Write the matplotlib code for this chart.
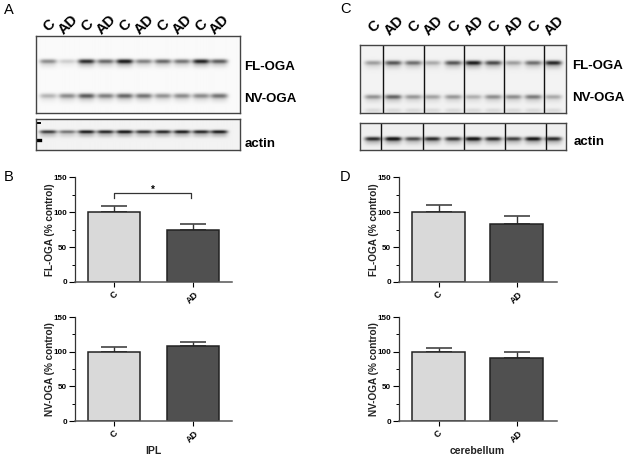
import matplotlib
matplotlib.use('Agg')
import matplotlib.pyplot as plt
import numpy as np

plt.rcParams['font.family'] = ['Liberation Sans', 'DejaVu Sans']

W, H = 629, 461

# bar values
groups = ['C', 'AD']
fl_ipl = [100, 75]
fl_ipl_err = [8, 8]
nv_ipl = [100, 108]
nv_ipl_err = [7, 6]
fl_cb = [100, 83]
fl_cb_err = [10, 12]
nv_cb = [100, 91]
nv_cb_err = [5, 9]
yticks = [0, 50, 100, 150]

# blot lanes and band darkness (0-1) per lane
lanes = ['C', 'AD', 'C', 'AD', 'C', 'AD', 'C', 'AD', 'C', 'AD']
a_fl = [0.45, 0.18, 0.85, 0.6, 0.95, 0.5, 0.6, 0.55, 0.9, 0.65]
a_nv = [0.28, 0.45, 0.65, 0.5, 0.6, 0.55, 0.42, 0.45, 0.45, 0.55]
a_actin = [0.8, 0.55, 0.95, 0.9, 1.0, 0.85, 0.9, 0.95, 0.9, 0.95]
c_fl = [0.35, 0.65, 0.55, 0.3, 0.65, 0.9, 0.7, 0.35, 0.55, 0.85]
c_nv = [0.4, 0.6, 0.38, 0.33, 0.38, 0.28, 0.42, 0.42, 0.5, 0.3]
c_actin = [0.85, 1.0, 0.7, 0.85, 0.8, 1.0, 0.85, 0.75, 0.95, 0.85]


def px_axes(x0, y0, x1, y1):
    return fig.add_axes([x0 / W, 1 - y1 / H, (x1 - x0) / W, (y1 - y0) / H])


def txt(x, y, s, size, rotation=0, color='black', weight='bold'):
    fig.text(x / W, 1 - y / H, s, fontsize=size, fontweight=weight, rotation=rotation,
             ha='center', va='center', color=color, rotation_mode='anchor')


def blot(x0, y0, x1, y1, lane_x, rows, bg=0.97, dividers=()):
    ax = px_axes(x0, y0, x1, y1)
    xx, yy = np.meshgrid(np.arange(x0, x1, 0.5), np.arange(y0, y1, 0.5))
    img = np.zeros(xx.shape)
    for y_band, vals, sy in rows:
        for lx, v in zip(lane_x, vals):
            prof = np.exp(-((xx - lx) / 8.5) ** 4)
            img += v * prof * np.exp(-((yy - y_band) / sy) ** 2)
            img += 0.25 * v * prof * np.exp(-((yy - y_band - 3) / (sy * 1.6)) ** 2)
    ax.imshow(bg - np.clip(img, 0, 1) * 0.85, cmap='gray', vmin=0, vmax=1, aspect='auto',
              extent=[x0, x1, y1, y0], interpolation='bilinear')
    for d in dividers:
        ax.axvline(d, color='#111111', lw=1)
    ax.set_xticks([])
    ax.set_yticks([])
    for s in ax.spines.values():
        s.set_color('#444444')
        s.set_linewidth(1)
    return ax


def bars(x0, x1, y_top, y_bot, c_span, ad_span, vals, errs, ylabel, lab_x, xlabel=None):
    ax = px_axes(x0, y_top, x1, y_bot)
    ax.set_xlim(x0, x1)
    ax.set_ylim(0, 150)
    pos = [sum(c_span) / 2, sum(ad_span) / 2]
    ax.bar(pos, vals, width=c_span[1] - c_span[0], color=['#d9d9d9', '#505050'],
           edgecolor='#222222', linewidth=1.1, zorder=2)
    ax.errorbar(pos, vals, yerr=[[0, 0], errs], fmt='none', ecolor='#333333', elinewidth=1,
                capsize=9.5, capthick=1.1, zorder=1)
    for s in ['top', 'right']:
        ax.spines[s].set_visible(False)
    ax.spines['left'].set_linewidth(0.9)
    ax.spines['bottom'].set_linewidth(1.1)
    ax.spines['left'].set_color('#333333')
    ax.spines['bottom'].set_color('#555555')
    ax.set_yticks(yticks)
    ax.set_yticks([25, 75, 125], minor=True)
    ax.tick_params(axis='y', which='major', length=4, width=0.8, labelsize=5.8, pad=1.5)
    ax.tick_params(axis='y', which='minor', length=2.5, width=0.7)
    ax.set_xticks(pos)
    ax.set_xticklabels(groups, rotation=45, ha='center', fontsize=6.5, fontweight='bold')
    ax.tick_params(axis='x', length=3.5, width=0.8, pad=2)
    for t in ax.get_yticklabels():
        t.set_fontweight('bold')
    txt(lab_x, (y_top + y_bot) / 2, ylabel, 7.2, rotation=90, color='#222222')
    if xlabel:
        txt(sum(pos) / 2, 451, xlabel, 7.5, color='#222222')
    return ax


fig = plt.figure(figsize=(W / 100, H / 100), dpi=100)

# panel A blots
a_x = [48, 67, 86, 105, 124, 143, 162, 181, 200, 218]
blot(36, 36, 240, 113, a_x, [(61, a_fl, 2.2), (95.5, a_nv, 2.4)], bg=0.98)
ax_a = blot(36, 119, 240, 150, a_x, [(131.5, a_actin, 1.7)], bg=0.95)
ax_a.plot([36, 40], [123, 123], color='black', lw=1.4)
ax_a.plot([36, 40], [140, 140], color='black', lw=2.4)
ax_a.set_xlim(36, 240)
ax_a.set_ylim(150, 119)

# panel C blots
c_x = [373, 393, 413, 432, 453, 473, 493, 513, 533, 553]
blot(360, 45, 566, 113, c_x, [(62.5, c_fl, 2.2), (96.5, c_nv, 2.2), (110, [0.1] * 10, 2.2)],
     bg=0.95, dividers=[383, 424, 464, 504, 544])
blot(360, 123, 566, 150, c_x, [(138.5, c_actin, 2.0)], bg=0.94,
     dividers=[381, 423, 464, 505, 546])

# lane labels
for x, s in zip(a_x, lanes):
    txt(x + 1, 25, s, 10.5, rotation=45)
for x, s in zip(c_x, lanes):
    txt(x + 1, 26, s, 10.5, rotation=45)

# blot labels
txt(270, 67, 'FL-OGA', 9.5)
txt(270, 99, 'NV-OGA', 9.5)
txt(260, 144, 'actin', 9.5)
txt(598, 66, 'FL-OGA', 9.5)
txt(598, 98, 'NV-OGA', 9.5)
txt(589, 142, 'actin', 9.5)

# panel letters
txt(9, 10, 'A', 10.5, weight='normal')
txt(345, 9, 'C', 10.5, weight='normal')
txt(9, 177, 'B', 10.5, weight='normal')
txt(345, 177, 'D', 10.5, weight='normal')

# bar charts
ax_b = bars(75, 232, 177, 282, (88, 140), (167, 219), fl_ipl, fl_ipl_err, 'FL-OGA (% control)', 50)
bars(75, 232, 317, 421, (88, 140), (167, 219), nv_ipl, nv_ipl_err, 'NV-OGA (% control)', 50, 'IPL')
bars(399, 557, 177, 282, (412, 465), (490, 543), fl_cb, fl_cb_err, 'FL-OGA (% control)', 374)
bars(399, 557, 317, 421, (412, 465), (490, 543), nv_cb, nv_cb_err, 'NV-OGA (% control)', 374, 'cerebellum')

# significance bracket
ax_b.plot([114, 114, 191, 191], [120, 127.5, 127.5, 120], color='#333333', lw=0.9)
ax_b.text(152.5, 124, '*', ha='center', va='bottom', fontsize=7, fontweight='bold')

fig.savefig('out.png', dpi=100)
